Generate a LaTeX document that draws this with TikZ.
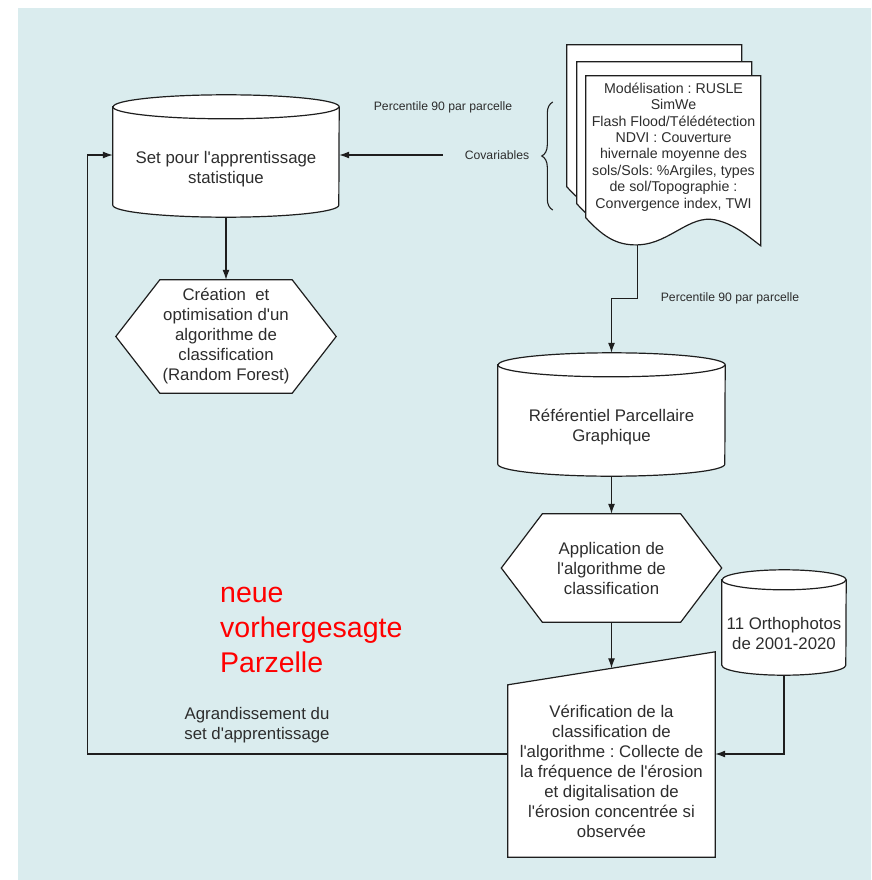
\documentclass[tikz,border=0pt]{standalone}
\usepackage{fontspec}
\setmainfont{Liberation Sans}[Ligatures=TeXOff]
\frenchspacing
\usetikzlibrary{shapes,arrows,arrows.meta,positioning,calc,decorations.pathreplacing}

\definecolor{bgblue}{RGB}{218,236,238}
\definecolor{inkgray}{RGB}{45,45,45}
\definecolor{linegray}{RGB}{30,30,30}

\pgfdeclarelayer{back}
\pgfdeclarelayer{shapes}
\pgfsetlayers{back,shapes,main}

% cylinder outline round a node: node, x radius, y radius, lift of the top ellipse
\newcommand{\drawcyl}[4]{%
  \path[outline] ([yshift=#4]#1.north west) -- ([yshift=#3]#1.south west)
    arc[start angle=180, end angle=360, x radius=#2, y radius=#3] -- ([yshift=#4]#1.north east)
    arc[start angle=0, end angle=180, x radius=#2, y radius=#3] -- cycle;
  \draw[outline, fill=none] ([yshift=#4]#1.north west) arc[start angle=180, end angle=360, x radius=#2, y radius=#3];}
% hexagon round a node: node, inset
\newcommand{\drawhex}[2]{%
  \path[outline] (#1.west) -- ([xshift=#2]#1.north west) -- ([xshift=-#2]#1.north east) -- (#1.east)
    -- ([xshift=-#2]#1.south east) -- ([xshift=#2]#1.south west) -- cycle;}

\begin{document}
\begin{tikzpicture}[x=1pt, y=-1pt, >={Latex[length=10pt,width=7pt]}]
  \tikzstyle{box}=[rectangle, inner sep=0pt, align=center, text=inkgray, font=\fontsize{16.8}{20}\selectfont]
  \tikzstyle{outline}=[draw=linegray, line width=1.2pt, fill=white]
  \tikzstyle{flow}=[->, draw=linegray, line width=1.2pt]
  \tikzstyle{note}=[inner sep=2pt, text=inkgray, font=\fontsize{12.2}{14}\selectfont]

  \useasboundingbox (0,0) rectangle (871,880);
  \begin{pgfonlayer}{back}
    \fill[white] (0,0) rectangle (871,880);
    \fill[bgblue] (18,8) rectangle (871,880);
  \end{pgfonlayer}

  % blocks
  \node[box, minimum width=226pt, minimum height=96pt] (set) at (226,169) {Set pour l'apprentissage\\statistique};
  \node[box, minimum width=220pt, minimum height=113pt] (create) at (226,336.5) {Création\ \ et\\optimisation d'un\\algorithme de\\classification\\(Random Forest)};
  \node[box, font=\fontsize{14.2}{16.4}\selectfont, minimum width=175pt, minimum height=142pt] (covdoc) at (673.5,147) {Modélisation : RUSLE\\SimWe\\Flash Flood/Télédétection\\NDVI : Couverture\\hivernale moyenne des\\sols/Sols: \%Argiles, types\\de sol/Topographie :\\Convergence index, TWI};
  \node[box, minimum width=227pt, minimum height=97pt] (rpg) at (611.5,427.5) {Référentiel Parcellaire\\Graphique};
  \node[box, minimum width=220pt, minimum height=108pt] (apply) at (611.5,568) {Application de\\l'algorithme de\\classification};
  \node[box, minimum width=124pt, minimum height=84pt] (ortho) at (784,633) {11 Orthophotos\\de 2001-2020};
  \node[box, minimum width=207pt, minimum height=172pt] (verif) at (611.5,771) {Vérification de la\\classification de\\l'algorithme : Collecte de\\la fréquence de l'érosion\\et digitalisation de\\l'érosion concentrée si\\observée};

  % labels
  \node[note] (pct1) at (443,107) {Percentile 90 par parcelle};
  \node[note] (covar) at (497,155) {Covariables};
  \node[note] (pct2) at (730,298) {Percentile 90 par parcelle};
  \node[box] (grow) at (257,725) {Agrandissement du\\set d'apprentissage};
  \node[box, anchor=west, align=left, text=red, font=\fontsize{28.5}{35}\selectfont] (newplot) at (220,630) {neue\\vorhergesagte\\Parzelle};

  \begin{pgfonlayer}{shapes}
    \drawcyl{set}{113pt}{12pt}{14pt}
    \drawcyl{rpg}{113.5pt}{12pt}{14pt}
    \drawcyl{ortho}{62pt}{10pt}{11pt}
    \drawhex{create}{44pt}
    \drawhex{apply}{41pt}
    \path[outline] (verif.north west) -- ([yshift=33pt]verif.north east) -- (verif.south east) -- (verif.south west) -- cycle;
    % stacked pages
    \foreach \dx/\dy in {-19/-31,-9/-14,0/0} {
      \begin{scope}[shift={($(covdoc.north west)+(\dx,\dy)$)}]
        \path[outline] (0,0) -- (175,0) -- (175,170) .. controls (164,162) and (149,148) .. (129,144)
          .. controls (104,139) and (84,167) .. (54,169) .. controls (34,170) and (20,164) .. (0,142) -- cycle;
      \end{scope}
    }
  \end{pgfonlayer}

  % connectors
  \coordinate (docfoot) at ($(covdoc.south west)+(52,27)$);
  \coordinate (vtop) at ($(verif.north west)!0.5!([yshift=33pt]verif.north east)$);
  \draw[flow] (set.south) -- (create.north);
  \draw[flow] ([xshift=-20pt]covar.west) -- (set.east |- covar.west);
  \draw[flow] (docfoot) -- ++(0,53) -| ([yshift=26pt]rpg.north);
  \draw[flow] (rpg.south) -- (apply.north);
  \draw[flow] (apply.south) -- (apply.south |- vtop);
  \draw[flow] (ortho.south) |- ([yshift=17pt]verif.east);
  \draw[flow] ([yshift=17pt]verif.west) -- ++(-420,0) |- (set.west |- covar.west);
  \draw[linegray, line width=1.1pt, decorate, decoration={brace, amplitude=11pt}]
    ($(covdoc.west)+(-33,63)$) -- ($(covdoc.west)+(-33,-45)$);
\end{tikzpicture}
\end{document}
